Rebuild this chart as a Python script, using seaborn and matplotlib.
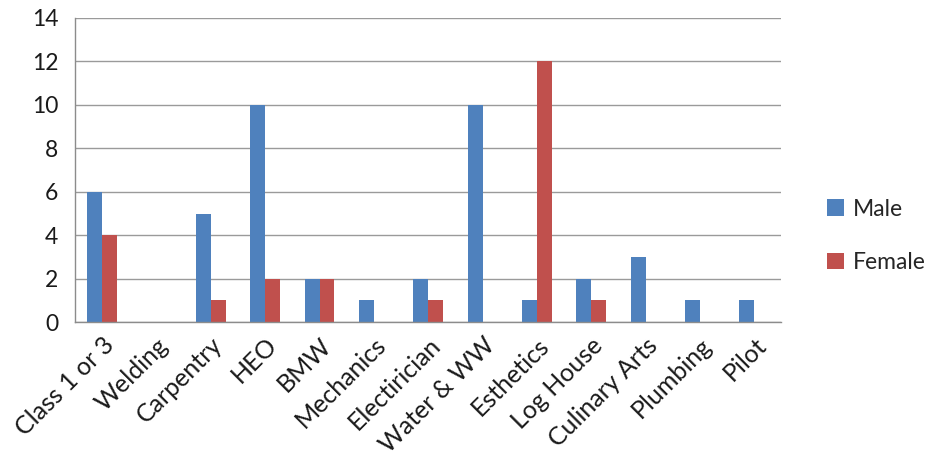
import matplotlib
matplotlib.use("Agg")
import matplotlib.pyplot as plt
import seaborn as sns
import pandas as pd
from matplotlib.patches import Patch

categories = ["Class 1 or 3", "Welding", "Carpentry", "HEO", "BMW", "Mechanics",
              "Electirician", "Water & WW", "Esthetics", "Log House",
              "Culinary Arts", "Plumbing", "Pilot"]
male = [6, 0, 5, 10, 2, 1, 2, 10, 1, 2, 3, 1, 1]
female = [4, 0, 1, 2, 2, 0, 1, 0, 12, 1, 0, 0, 0]
series = ["Male", "Female"]
colors = ["#4F81BD", "#C0504D"]

df = pd.DataFrame({
    "Program": categories * 2,
    "Count": male + female,
    "Sex": [series[0]] * len(categories) + [series[1]] * len(categories),
})

sns.set_theme(style="white")
plt.rcParams["font.family"] = ["Lato", "DejaVu Sans"]

fig = plt.figure(figsize=(9.38, 4.59), dpi=100)
ax = fig.add_axes([0.080, 0.298, 0.753, 0.663])

sns.barplot(data=df, x="Program", y="Count", hue="Sex", order=categories,
            hue_order=series, palette=colors, width=0.55, saturation=1,
            edgecolor="none", linewidth=0, ax=ax, legend=False)

ax.set_ylim(0, 14)
ax.set_yticks(range(0, 15, 2))
ax.set_xlim(-0.5, len(categories) - 0.5)
ax.yaxis.grid(True, color="#9a9a9a", linewidth=1)
ax.set_axisbelow(True)
ax.set_xlabel("")
ax.set_ylabel("")
for side in ["top", "right"]:
    ax.spines[side].set_visible(False)
for side in ["left", "bottom"]:
    ax.spines[side].set_color("#8c8c8c")
    ax.spines[side].set_linewidth(1)

ax.tick_params(axis="both", length=0, colors="#1a1a1a")
ax.tick_params(axis="y", pad=12, labelsize=16.5)
ax.tick_params(axis="x", pad=8, labelsize=18)
plt.setp(ax.get_xticklabels(), rotation=45, ha="right", rotation_mode="anchor")

handles = [Patch(facecolor=c, edgecolor="none") for c in colors]
fig.legend(handles, series, loc="center left", bbox_to_anchor=(0.86, 0.486),
           frameon=False, fontsize=16.5, handlelength=0.75, handleheight=0.75,
           handletextpad=0.35, labelspacing=1.4)

fig.savefig("out.png", dpi=100)
